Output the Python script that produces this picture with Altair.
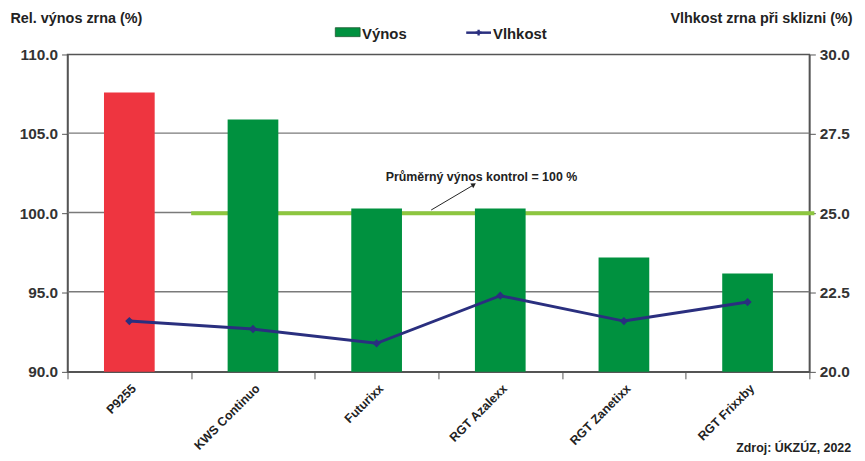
import altair as alt
import pandas as pd

varieties = ["P9255", "KWS Continuo", "Futurixx", "RGT Azalexx", "RGT Zanetixx", "RGT Frixxby"]
yield_rel = [107.6, 105.9, 100.3, 100.3, 97.2, 96.2]
moisture = [21.6, 21.35, 20.9, 22.4, 21.6, 22.2]
control_level = 100
left_ticks = [90, 95, 100, 105, 110]
right_ticks = [20, 22.5, 25, 27.5, 30]
grid_levels = [95, 100, 105]

df = pd.DataFrame({"odruda": varieties, "vynos": yield_rel, "vlhkost": moisture})

FONT = "Liberation Sans"
W, H = 748, 320
GREEN = "#00913f"
RED = "#ee3540"
NAVY = "#2a2f7f"
LIGHT = "#8dc63f"
GRID = "#7a7a7a"

xscale = alt.Scale(domain=varieties, paddingInner=0, paddingOuter=0)
xaxis = alt.Axis(title=None, labelAngle=-45, tickBand="extent",
                 labelFontSize=12.5, labelFontWeight="bold", labelColor="#222",
                 labelFont=FONT, tickColor="#555", tickSize=7, domainColor="#555",
                 domainWidth=1.5, labelPadding=3, grid=False)
yleft = alt.Scale(domain=[90, 110], nice=False, zero=False)
yright = alt.Scale(domain=[20, 30], nice=False, zero=False)
left_axis = alt.Axis(values=left_ticks, format=".1f", title="Rel. výnos zrna (%)",
                     titleAngle=0, titleAlign="left", titleX=-58, titleY=-36,
                     titleBaseline="middle", titleFontSize=14.5, titleFontWeight="bold",
                     titleFont=FONT, titleColor="#222", grid=False,
                     tickColor="#555", tickSize=6, domainColor="#555", domainWidth=1.5,
                     labelFontSize=15.5, labelFontWeight="bold", labelColor="#333",
                     labelFont=FONT, labelPadding=4)
right_axis = alt.Axis(orient="right", values=right_ticks, format=".1f",
                      title="Vlhkost zrna při sklizni (%)", titleAngle=0,
                      titleAlign="right", titleX=43, titleY=-36, titleBaseline="middle",
                      titleFontSize=14.5, titleFontWeight="bold", titleFont=FONT,
                      titleColor="#222", grid=False, tickColor="#555", tickSize=6,
                      domainColor="#555", domainWidth=1.5, labelFontSize=15.5,
                      labelFontWeight="bold", labelColor="#333", labelFont=FONT,
                      labelPadding=4)

base = alt.Chart(df)

# horizontal grid lines drawn as thin rectangles behind the bars
grid = alt.Chart(pd.DataFrame({"g": grid_levels})).mark_rect(
    color=GRID, opacity=1).encode(
    x=alt.value(0), x2=alt.value(W),
    y=alt.Y("g:Q", scale=yleft, axis=left_axis),
    y2=alt.Y2("g2:Q"),
).transform_calculate(g2="datum.g + 0.09")

ref = alt.Chart(pd.DataFrame({"v": [control_level]})).mark_rule(
    color=LIGHT, strokeWidth=4).encode(
    x=alt.X(datum="KWS Continuo", scale=xscale, bandPosition=0, axis=xaxis),
    x2=alt.value(W + 5),
    y=alt.Y("v:Q", scale=yleft, axis=left_axis),
)

bars = base.mark_bar(width={"band": 0.41}).encode(
    x=alt.X("odruda:N", scale=xscale, sort=varieties, axis=xaxis),
    y=alt.Y("vynos:Q", scale=yleft, axis=left_axis),
    y2=alt.datum(90),
    color=alt.condition(alt.datum.odruda == "P9255", alt.value(RED), alt.value(GREEN)),
)

note = alt.Chart(pd.DataFrame({"t": ["Průměrný výnos kontrol = 100 %"]})).mark_text(
    font=FONT, fontSize=12.5, fontWeight="bold", color="#222", align="center",
    baseline="middle", dx=-19).encode(
    x=alt.X(datum="RGT Azalexx", scale=xscale, axis=xaxis),
    y=alt.Y(datum=102.3, scale=yleft, axis=left_axis),
    text="t:N",
)
arrow = alt.Chart(pd.DataFrame({"a": [1]})).mark_rule(
    color="#222", strokeWidth=1, xOffset=55, x2Offset=97).encode(
    x=alt.X(datum="Futurixx", scale=xscale, axis=xaxis),
    x2=alt.X2(datum="Futurixx"),
    y=alt.Y(datum=100.2, scale=yleft, axis=left_axis),
    y2=alt.Y2(datum=101.75),
)
arrowhead = alt.Chart(pd.DataFrame({"a": [1]})).mark_point(
    shape="triangle-up", filled=True, color="#222", size=30, angle=58, opacity=1,
    xOffset=98).encode(
    x=alt.X(datum="Futurixx", scale=xscale, axis=xaxis),
    y=alt.Y(datum=101.8, scale=yleft, axis=left_axis),
)

line = base.mark_line(color=NAVY, strokeWidth=3).encode(
    x=alt.X("odruda:N", scale=xscale, sort=varieties, axis=xaxis),
    y=alt.Y("vlhkost:Q", scale=yright, axis=right_axis),
)
pts = base.mark_point(shape="diamond", filled=True, color=NAVY, size=70, opacity=1).encode(
    x=alt.X("odruda:N", scale=xscale, sort=varieties, axis=xaxis),
    y=alt.Y("vlhkost:Q", scale=yright, axis=right_axis),
)

# legend (top)
leg_sw = alt.Chart(pd.DataFrame({"a": [1]})).mark_rect(
    color=GREEN, stroke="#1f5a33", strokeWidth=0.8).encode(
    x=alt.value(270), x2=alt.value(295), y=alt.value(-27), y2=alt.value(-18))
leg_ln = alt.Chart(pd.DataFrame({"a": [1]})).mark_rule(color=NAVY, strokeWidth=2.5).encode(
    x=alt.value(402), x2=alt.value(427), y=alt.value(-22))
leg_pt = alt.Chart(pd.DataFrame({"a": [1]})).mark_point(
    shape="cross", filled=True, color=NAVY, size=35, opacity=1).encode(
    x=alt.value(414.5), y=alt.value(-22))
leg_txt = alt.Chart(pd.DataFrame({"t": ["Výnos", "Vlhkost"], "px": [297, 429]})).mark_text(
    font=FONT, fontSize=15, fontWeight="bold", color="#222", align="left",
    baseline="middle").encode(
    x=alt.X("px:Q", scale=None), y=alt.value(-21), text="t:N")

src = alt.Chart(pd.DataFrame({"t": ["Zdroj: ÚKZÚZ, 2022"]})).mark_text(
    font=FONT, fontSize=12.5, fontWeight="bold", color="#222", align="right",
    baseline="middle").encode(
    x=alt.value(W + 42), y=alt.value(H + 77), text="t:N")

left_layer = alt.layer(grid, ref, bars, note, arrow, arrowhead)
right_layer = alt.layer(line, pts)

chart = alt.layer(left_layer, right_layer, leg_sw, leg_ln, leg_pt, leg_txt, src).resolve_scale(
    y="independent"
).properties(
    width=W, height=H,
    autosize=alt.AutoSizeParams(type="none"),
    padding={"left": 60, "top": 45, "right": 48, "bottom": 88},
    background="white",
).configure_view(stroke="#555", strokeWidth=1.5)

chart.save("out.html", embed_options={"renderer": "svg", "actions": False})
